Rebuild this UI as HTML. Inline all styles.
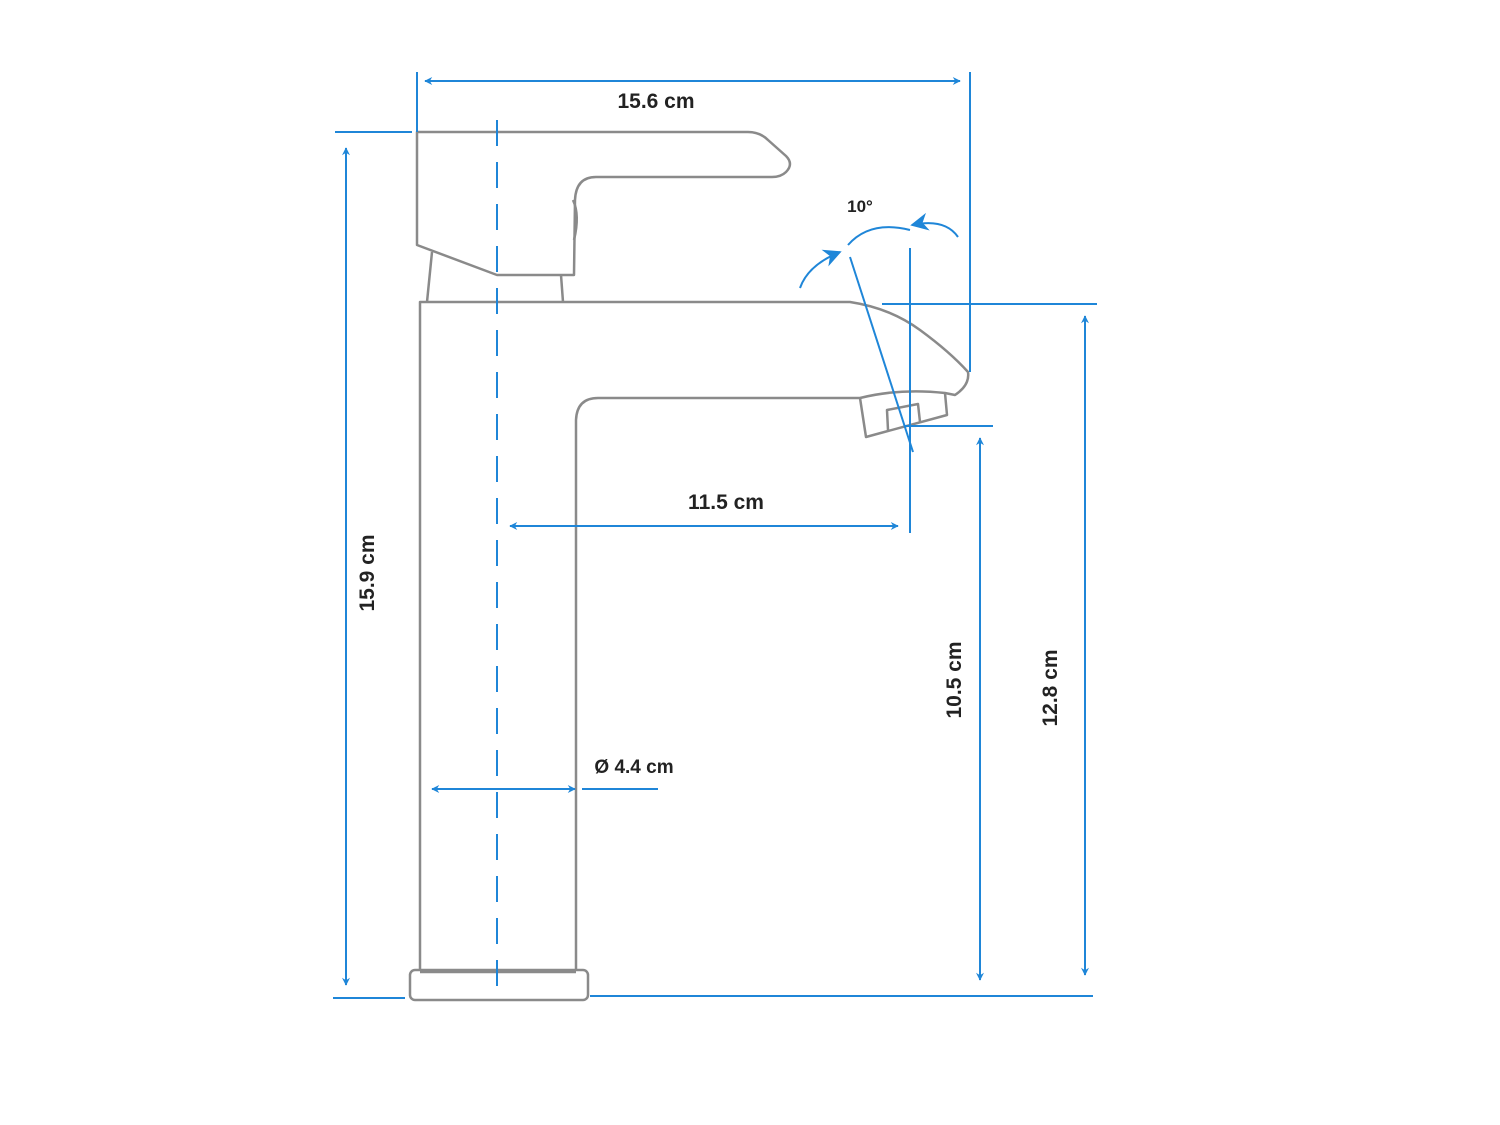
<!DOCTYPE html>
<html><head><style>html,body{margin:0;padding:0;background:#fff}svg{display:block}</style></head>
<body>
<svg width="1500" height="1125" viewBox="0 0 1500 1125" xmlns="http://www.w3.org/2000/svg">
<defs>
<marker id="a" viewBox="0 0 10 10" refX="9" refY="5" markerWidth="11" markerHeight="8" orient="auto-start-reverse" markerUnits="userSpaceOnUse"><path d="M0,0 L10,5 L0,10 L3,5 z" fill="#1f86d8"/></marker>
<marker id="b" viewBox="0 0 10 10" refX="9" refY="5" markerWidth="22" markerHeight="18" orient="auto" markerUnits="userSpaceOnUse"><path d="M0,0 L10,5 L0,10 L3,5 z" fill="#1f86d8"/></marker>
</defs>
<g fill="none" stroke="#8a8a8a" stroke-width="2.5" stroke-linejoin="round">
<path d="M417,132 L748,132 Q760,132 768,140 L786,156 Q794,164 786,172 Q781,177 772,177 L596,177 Q576,177 575,200 L574,275 L497,275 L417,245 Z"/>
<path d="M573,200 Q580,215 574,240"/>
<path d="M432,252 L427,302 M561,275 L563,302"/>
<path d="M420,970 L420,302 L850,302 Q890,308 920,330 Q950,352 968,372 Q970,385 955,395 L945,393 Q900,388 860,398 L598,398 Q577,398 576,420 L576,970"/>
<path d="M860,398 L866,437 L947,415 L945,393"/>
<path d="M888,430 L887,410 L918,404 L920,422"/>
<rect x="410" y="970" width="178" height="30" rx="5"/>
<path d="M420,972 L576,972"/>
</g>
<g fill="none" stroke="#1f86d8" stroke-width="2">
<path d="M417,72 L417,132 M970,72 L970,372"/>
<path d="M425,81 L960,81" marker-start="url(#a)" marker-end="url(#a)"/>
<path d="M335,132 L412,132 M333,998 L405,998"/>
<path d="M346,148 L346,985" marker-start="url(#a)" marker-end="url(#a)"/>
<path d="M497,120 L497,1000" stroke-dasharray="26,16"/>
<path d="M510,526 L898,526" marker-start="url(#a)" marker-end="url(#a)"/>
<path d="M910,248 L910,533"/>
<path d="M850,257 L913,452"/>
<path d="M882,304 L1097,304 M905,426 L993,426 M590,996 L1093,996"/>
<path d="M1085,316 L1085,975" marker-start="url(#a)" marker-end="url(#a)"/>
<path d="M980,438 L980,980" marker-start="url(#a)" marker-end="url(#a)"/>
<path d="M432,789 L575,789" marker-start="url(#a)" marker-end="url(#a)"/>
<path d="M582,789 L658,789"/>
<path d="M848,245 Q870,220 910,230"/>
<path d="M800,288 Q808,265 840,252" marker-end="url(#b)"/>
<path d="M958,237 Q945,218 912,225" marker-end="url(#b)"/>
</g>
<g font-family="Liberation Sans, sans-serif" font-weight="bold" fill="#222" font-size="21">
<text x="656" y="108" text-anchor="middle">15.6 cm</text>
<text x="726" y="509" text-anchor="middle">11.5 cm</text>
<text x="634" y="773" text-anchor="middle" font-size="19">Ø 4.4 cm</text>
<text x="860" y="212" text-anchor="middle" font-size="17">10°</text>
<text transform="translate(374,573) rotate(-90)" text-anchor="middle">15.9 cm</text>
<text transform="translate(961,680) rotate(-90)" text-anchor="middle">10.5 cm</text>
<text transform="translate(1057,688) rotate(-90)" text-anchor="middle">12.8 cm</text>
</g>
</svg>
</body></html>
